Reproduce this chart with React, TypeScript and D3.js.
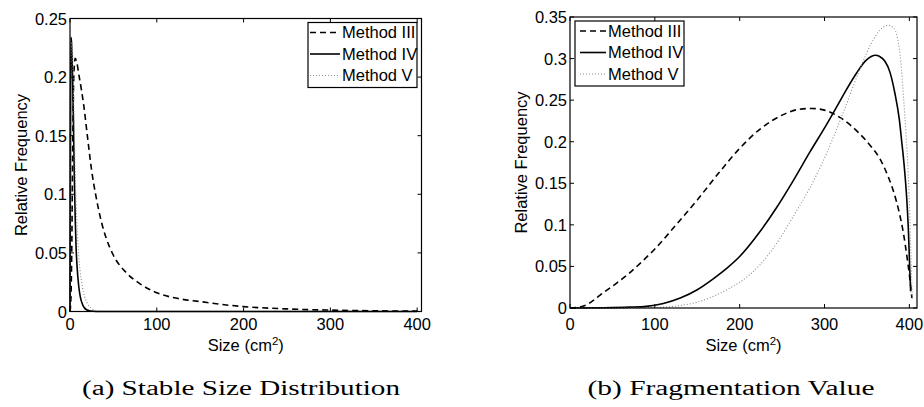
import React from 'react';
import * as d3 from 'd3';

// (a) stable size distribution
const stableSizeIII = [0, 1, 2, 3, 4, 5, 6, 8, 10, 13, 16, 20, 25, 30, 36, 42, 50, 65, 80, 100, 125, 150, 175, 200, 250, 300, 350, 400];
const stableFreqIII = [0, 0.01, 0.05, 0.13, 0.19, 0.21, 0.216, 0.212, 0.203, 0.19, 0.175, 0.15, 0.12, 0.098, 0.077, 0.062, 0.048, 0.033, 0.024, 0.016, 0.011, 0.0085, 0.006, 0.0042, 0.0022, 0.0012, 0.0006, 0.0003];
const stableSizeIV = [0, 0.5, 1, 1.5, 2, 3, 4, 5, 6, 7, 8, 10, 12, 15, 19, 24, 30, 40, 100, 200, 300, 400];
const stableFreqIV = [0, 0.12, 0.234, 0.232, 0.225, 0.2, 0.16, 0.115, 0.08, 0.055, 0.04, 0.022, 0.012, 0.005, 0.0015, 0.0004, 0, 0, 0, 0, 0, 0];
const stableSizeV = [0, 0.5, 1, 1.5, 2, 3, 4, 5, 6, 8, 10, 13, 16, 20, 25, 30, 36, 50, 100, 200, 300, 400];
const stableFreqV = [0, 0.08, 0.18, 0.225, 0.23, 0.22, 0.19, 0.155, 0.12, 0.075, 0.048, 0.027, 0.015, 0.007, 0.0025, 0.0008, 0.0002, 0, 0, 0, 0, 0];

// (b) fragmentation value
const fragSizeIII = [0, 10, 20, 30, 40, 55, 70, 85, 100, 125, 150, 175, 200, 225, 250, 270, 285, 300, 320, 340, 355, 365, 375, 382, 388, 393, 397, 400, 402, 403];
const fragFreqIII = [0, 0.0008, 0.004, 0.011, 0.019, 0.03, 0.042, 0.056, 0.071, 0.1, 0.13, 0.162, 0.192, 0.216, 0.232, 0.239, 0.24, 0.238, 0.228, 0.211, 0.194, 0.18, 0.158, 0.138, 0.115, 0.09, 0.063, 0.04, 0.022, 0.012];
const fragSizeIV = [0, 40, 70, 90, 110, 130, 150, 170, 185, 200, 224, 243, 263, 283, 302, 316, 326, 338, 348, 355, 360, 365, 371, 377, 383, 388, 391, 394, 397, 399, 400.5, 401.5];
const fragFreqIV = [0, 0.0003, 0.001, 0.002, 0.0055, 0.012, 0.022, 0.036, 0.048, 0.062, 0.092, 0.12, 0.153, 0.188, 0.22, 0.245, 0.263, 0.283, 0.297, 0.3025, 0.304, 0.3025, 0.297, 0.284, 0.258, 0.228, 0.2, 0.17, 0.13, 0.09, 0.045, 0.02];
const fragSizeV = [0, 90, 110, 130, 150, 169, 185, 200, 224, 247, 263, 282, 302, 322, 342, 355, 365, 375, 381, 386, 390, 393, 396, 398.7, 400.5, 401.7, 402.7, 403.5];
const fragFreqV = [0, 0.0002, 0.001, 0.003, 0.007, 0.014, 0.022, 0.031, 0.052, 0.083, 0.11, 0.143, 0.185, 0.235, 0.288, 0.318, 0.334, 0.34, 0.337, 0.325, 0.295, 0.255, 0.21, 0.16, 0.11, 0.07, 0.035, 0.01];

const methodNames = ['Method III', 'Method IV', 'Method V'];
const xTicks = [0, 100, 200, 300, 400];
const stableYTicks = [0, 0.05, 0.1, 0.15, 0.2, 0.25];
const fragYTicks = [0, 0.05, 0.1, 0.15, 0.2, 0.25, 0.3, 0.35];

const lineStyles = [
  { stroke: '#000', width: 1.6, dash: '6,4' },
  { stroke: '#000', width: 1.6, dash: '' },
  { stroke: '#8a8a8a', width: 1.1, dash: '1,2' },
];

const sans = '"Liberation Sans", Arial, sans-serif';
const fs = 16.5;

type PanelProps = {
  xs: number[][];
  ys: number[][];
  xMax: number;
  yMax: number;
  yTicks: number[];
  left: number; right: number; top: number; bottom: number;
  legend: { x: number; y: number; w: number; h: number; lineX: number; textX: number };
  yLabelX: number;
  caption: string;
  captionWidth: number;
  captionX: number;
};

const Panel = (p: PanelProps) => {
  const x = d3.scaleLinear().domain([0, p.xMax]).range([p.left, p.right]);
  const y = d3.scaleLinear().domain([0, p.yMax]).range([p.bottom, p.top]);
  const tk = 4;
  return (
    <g>
      {p.xs.map((xv, i) => {
        const pts = xv.map((v, j) => [v, p.ys[i][j]] as [number, number]);
        const path = d3.line<[number, number]>()
          .x(d => x(d[0]))
          .y(d => y(d[1]))
          .curve(d3.curveMonotoneX)(pts) || '';
        const s = lineStyles[i];
        return <path key={i} d={path} fill="none" stroke={s.stroke} strokeWidth={s.width} strokeDasharray={s.dash || undefined} />;
      })}
      <rect x={p.left} y={p.top} width={p.right - p.left} height={p.bottom - p.top} fill="none" stroke="#000" strokeWidth={1.2} />
      {xTicks.map(t => (
        <g key={'x' + t}>
          <line x1={x(t)} x2={x(t)} y1={p.bottom} y2={p.bottom - tk} stroke="#000" />
          <line x1={x(t)} x2={x(t)} y1={p.top} y2={p.top + tk} stroke="#000" />
          <text x={x(t)} y={330} textAnchor="middle" fontFamily={sans} fontSize={fs}>{t}</text>
        </g>
      ))}
      {p.yTicks.map(t => (
        <g key={'y' + t}>
          <line x1={p.left} x2={p.left + tk} y1={y(t)} y2={y(t)} stroke="#000" />
          <line x1={p.right} x2={p.right - tk} y1={y(t)} y2={y(t)} stroke="#000" />
          <text x={p.left - 3} y={y(t) + 6} textAnchor="end" fontFamily={sans} fontSize={fs}>{d3.format('~g')(t)}</text>
        </g>
      ))}
      <text x={(p.left + p.right) / 2} y={351} textAnchor="middle" fontFamily={sans} fontSize={fs}>
        Size (cm<tspan dy={-6} fontSize={11.5}>2</tspan><tspan dy={6}>)</tspan>
      </text>
      <text transform={`translate(${p.yLabelX},${(p.top + p.bottom) / 2}) rotate(-90)`} textAnchor="middle" fontFamily={sans} fontSize={fs}>
        Relative Frequency
      </text>
      <rect x={p.legend.x} y={p.legend.y} width={p.legend.w} height={p.legend.h} fill="#fff" stroke="#000" strokeWidth={1.2} />
      {methodNames.map((m, i) => {
        const base = p.legend.y + 15.5 + i * 21.5;
        const s = lineStyles[i];
        return (
          <g key={m}>
            <line x1={p.legend.lineX} x2={p.legend.textX - 2} y1={base - 5.5} y2={base - 5.5} stroke={s.stroke} strokeWidth={s.width} strokeDasharray={s.dash || undefined} />
            <text x={p.legend.textX} y={base} fontFamily={sans} fontSize={fs}>{m}</text>
          </g>
        );
      })}
      <text x={p.captionX} y={395} textAnchor="middle" fontFamily='"Liberation Serif", "DejaVu Serif", serif' fontSize={20}
        textLength={p.captionWidth} lengthAdjust="spacingAndGlyphs">{p.caption}</text>
    </g>
  );
};

export default function App() {
  return (
    <svg width={924} height={407} style={{ position: 'absolute', left: 0, top: 0, background: '#fff' }}>
      <rect width={924} height={407} fill="#fff" />
      <Panel
        xs={[stableSizeIII, stableSizeIV, stableSizeV]}
        ys={[stableFreqIII, stableFreqIV, stableFreqV]}
        xMax={405} yMax={0.25} yTicks={stableYTicks}
        left={70} right={421.5} top={18.5} bottom={311.5}
        legend={{ x: 308, y: 22.5, w: 109, h: 65, lineX: 310, textX: 342 }}
        yLabelX={27}
        caption="(a) Stable Size Distribution" captionWidth={318} captionX={241}
      />
      <Panel
        xs={[fragSizeIII, fragSizeIV, fragSizeV]}
        ys={[fragFreqIII, fragFreqIV, fragFreqV]}
        xMax={409} yMax={0.35} yTicks={fragYTicks}
        left={570} right={917} top={17} bottom={308}
        legend={{ x: 575, y: 21, w: 109, h: 65, lineX: 580, textX: 608 }}
        yLabelX={527}
        caption="(b) Fragmentation Value" captionWidth={287} captionX={731}
      />
    </svg>
  );
}
